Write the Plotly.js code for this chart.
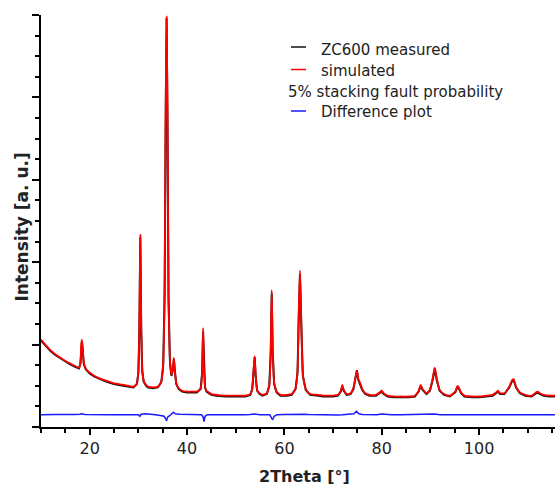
<!DOCTYPE html>
<html>
<head>
<meta charset="utf-8">
<script src="https://cdn.plot.ly/plotly-3.0.1.min.js"></script>
<style>
html,body{margin:0;padding:0;background:#fff;overflow:hidden;}
#chart{width:555px;height:486px;}
</style>
</head>
<body>
<div id="chart"></div>
<script>
// 2Theta positions (degrees)
const twoTheta = [10.0,11,12,13,14,15,16,17,17.8,18.1,18.25,18.4,18.55,18.8,19.2,19.6,20,21,22,23,24,25,26,27,28,29,29.7,30.0,30.2,30.4,30.6,30.8,31.1,31.6,32,33,34,34.7,35.1,35.4,35.6,35.8,36.0,36.2,36.5,36.8,37.1,37.3,37.5,37.8,38.3,39,40,41,42,42.8,43.1,43.3,43.5,43.7,44.0,44.5,45,46,48,50,51,52,53,53.4,53.7,53.9,54.1,54.4,54.9,55.5,56.4,56.9,57.2,57.4,57.6,57.9,58.4,59.2,60.5,61.5,62.3,62.7,62.95,63.2,63.45,63.8,64.4,65.3,67,68,69,70,71,71.6,71.9,72.2,72.8,73.6,74.2,74.6,74.9,75.2,75.6,76.0,76.6,77.5,78.8,79.6,80.0,80.4,81.2,82.5,84,85.5,86.8,87.6,88.0,88.4,89.2,89.9,90.5,90.9,91.3,91.9,92.8,94,95.1,95.6,95.9,96.3,97,98.5,100,101.5,102.8,103.5,103.9,104.3,105.2,106.2,106.8,107.1,107.6,108.4,109.5,110.8,111.5,112.0,112.5,113.3,114.5,115.6];

// Measured pattern (ZC600), arbitrary units
const measured = [1.05,0.98,0.92,0.87,0.83,0.79,0.76,0.73,0.71,0.77,0.95,1.04,0.95,0.76,0.70,0.67,0.65,0.61,0.58,0.56,0.54,0.52,0.51,0.50,0.49,0.48,0.52,0.66,1.15,2.30,1.15,0.68,0.55,0.50,0.48,0.47,0.48,0.54,0.74,1.60,3.60,4.96,3.60,1.55,0.78,0.62,0.70,0.82,0.68,0.52,0.46,0.43,0.42,0.42,0.42,0.46,0.66,1.16,0.66,0.48,0.43,0.41,0.39,0.38,0.37,0.37,0.37,0.37,0.39,0.46,0.70,0.85,0.62,0.44,0.40,0.38,0.40,0.50,0.90,1.62,0.92,0.52,0.42,0.38,0.38,0.39,0.46,0.66,1.32,1.86,1.30,0.62,0.45,0.39,0.38,0.37,0.37,0.37,0.38,0.43,0.49,0.44,0.39,0.40,0.46,0.58,0.69,0.57,0.52,0.45,0.40,0.38,0.38,0.41,0.43,0.40,0.37,0.36,0.36,0.36,0.37,0.43,0.50,0.45,0.40,0.44,0.58,0.71,0.57,0.44,0.39,0.37,0.42,0.49,0.46,0.41,0.37,0.36,0.36,0.37,0.38,0.41,0.43,0.40,0.40,0.48,0.56,0.57,0.48,0.41,0.38,0.37,0.40,0.42,0.40,0.38,0.37,0.37];

// Simulated pattern (5% stacking fault probability)
const simulated = [1.06,0.99,0.93,0.88,0.84,0.80,0.77,0.74,0.72,0.78,0.98,1.06,0.97,0.78,0.71,0.68,0.66,0.62,0.59,0.57,0.55,0.53,0.52,0.51,0.50,0.49,0.53,0.68,1.20,2.33,1.20,0.70,0.56,0.51,0.49,0.48,0.49,0.55,0.76,1.70,3.80,4.98,3.80,1.60,0.80,0.63,0.71,0.84,0.69,0.53,0.47,0.44,0.43,0.43,0.43,0.47,0.68,1.20,0.68,0.49,0.44,0.42,0.40,0.39,0.38,0.38,0.38,0.38,0.40,0.47,0.72,0.86,0.63,0.45,0.41,0.39,0.41,0.52,0.94,1.66,0.96,0.54,0.43,0.39,0.39,0.40,0.47,0.68,1.40,1.90,1.36,0.64,0.46,0.40,0.39,0.38,0.38,0.38,0.39,0.44,0.51,0.45,0.40,0.41,0.48,0.60,0.68,0.58,0.53,0.46,0.41,0.39,0.39,0.42,0.44,0.41,0.38,0.37,0.37,0.37,0.38,0.44,0.51,0.46,0.41,0.45,0.60,0.72,0.59,0.45,0.40,0.38,0.43,0.50,0.47,0.42,0.38,0.37,0.37,0.38,0.39,0.42,0.44,0.41,0.41,0.49,0.57,0.58,0.49,0.42,0.39,0.38,0.41,0.43,0.41,0.39,0.38,0.38];

// Difference plot
const diffX = [10,11,12,13,14,15,16,17,18,18.4,19,20,21,22,23,24,25,26,27,28,29,30.0,30.3,30.6,31.5,32.5,33.5,34.5,35.3,35.6,35.8,36.0,36.5,37.2,37.6,38.5,40,41,42,43.0,43.3,43.5,43.7,44.2,45,46,47,48,49,50,51,52,53,53.8,55,56,57.0,57.4,57.6,57.9,58.5,60,61,62,63,64,65,66,67,68,69,70,71,72,73,74.3,74.8,75.3,76,77,78,79,80,81,82,84,86,87,88,89,90,90.8,92,93,95,96,97,98,99,100,101,102,103,104,105,106,107,108,109,110,111,112,113,114,115.6];
const diffY = [0.150,0.148,0.149,0.151,0.152,0.150,0.149,0.151,0.155,0.160,0.152,0.150,0.151,0.149,0.152,0.150,0.150,0.151,0.151,0.149,0.150,0.150,0.130,0.155,0.162,0.158,0.150,0.140,0.130,0.100,0.075,0.120,0.140,0.180,0.160,0.155,0.152,0.150,0.151,0.150,0.120,0.065,0.130,0.150,0.149,0.148,0.150,0.150,0.151,0.152,0.150,0.150,0.151,0.158,0.150,0.149,0.150,0.105,0.088,0.130,0.150,0.152,0.153,0.155,0.162,0.155,0.152,0.150,0.149,0.148,0.147,0.146,0.147,0.148,0.150,0.160,0.190,0.160,0.152,0.150,0.149,0.150,0.158,0.150,0.149,0.148,0.149,0.150,0.151,0.149,0.150,0.158,0.148,0.147,0.145,0.152,0.150,0.149,0.150,0.150,0.151,0.149,0.148,0.150,0.149,0.150,0.150,0.157,0.150,0.149,0.150,0.151,0.150,0.150,0.149,0.150];

const xTickVals = [20,40,60,80,100];
const xTickText = ['20','40','60','80','100'];
const legendTexts = ['ZC600 measured','simulated','5% stacking fault probability','Difference plot'];

const traces = [
  {x: twoTheta, y: measured, type:'scatter', mode:'lines', line:{color:'#111111', width:2}, hoverinfo:'skip'},
  {x: twoTheta, y: simulated, type:'scatter', mode:'lines', line:{color:'#ff0000', width:1.8, shape:'spline', smoothing:0.6}, hoverinfo:'skip'},
  {x: diffX, y: diffY, type:'scatter', mode:'lines', line:{color:'#1a1aff', width:1.5}, hoverinfo:'skip'}
];

const FONT = 'DejaVu Sans, Verdana, sans-serif';
const W = 555, L = 41, R = 0, T = 15, B = 59;
const pw = W - L - R, ph = 486 - T - B;
const px = v => (v - L) / pw;          // pixel x -> paper
const py = v => (486 - B - v) / ph;    // pixel y -> paper

const layout = {
  width: W, height: 486,
  margin: {l: L, r: R, t: T, b: B, pad: 0},
  paper_bgcolor: '#fff', plot_bgcolor: '#fff',
  showlegend: false,
  font: {family: FONT, color: '#222', size: 16},
  xaxis: {
    range: [10, 115.6], showgrid: false, zeroline: false,
    showline: true, linecolor: '#000', linewidth: 2,
    ticks: 'outside', ticklen: 6, tickwidth: 2, tickcolor: '#000',
    tickvals: xTickVals, ticktext: xTickText,
    tickfont: {family: FONT, size: 16, color: '#222'},
    minor: {tick0: 0, dtick: 5, ticks: 'outside', ticklen: 4, tickwidth: 2, tickcolor: '#000', showgrid: false}
  },
  yaxis: {
    range: [0, 5.0], showgrid: false, zeroline: false,
    showline: true, linecolor: '#000', linewidth: 2,
    ticks: 'outside', ticklen: 7, tickwidth: 2, tickcolor: '#000',
    tick0: 0, dtick: 1, showticklabels: false,
    minor: {tick0: 0, dtick: 0.25, ticks: 'outside', ticklen: 4, tickwidth: 2, tickcolor: '#000', showgrid: false}
  },
  annotations: [
    {xref:'paper', yref:'paper', x: px(304), y: py(476), text:'<b>2Theta [°]</b>', showarrow:false, xanchor:'center', yanchor:'middle', font:{family:FONT, size:16, color:'#222'}},
    {xref:'paper', yref:'paper', x: px(21.5), y: py(227), text:'<b>Intensity [a. u.]</b>', textangle:-90, showarrow:false, xanchor:'center', yanchor:'middle', font:{family:FONT, size:17, color:'#222'}},
    {xref:'paper', yref:'paper', x: px(319), y: py(49.5), text: legendTexts[0], showarrow:false, xanchor:'left', yanchor:'middle', font:{family:FONT, size:15, color:'#222'}},
    {xref:'paper', yref:'paper', x: px(319), y: py(70.5), text: legendTexts[1], showarrow:false, xanchor:'left', yanchor:'middle', font:{family:FONT, size:15, color:'#222'}},
    {xref:'paper', yref:'paper', x: px(286), y: py(92), text: legendTexts[2], showarrow:false, xanchor:'left', yanchor:'middle', font:{family:FONT, size:15, color:'#222'}},
    {xref:'paper', yref:'paper', x: px(319), y: py(112.5), text: legendTexts[3], showarrow:false, xanchor:'left', yanchor:'middle', font:{family:FONT, size:15, color:'#222'}}
  ],
  shapes: [
    {type:'line', xref:'paper', yref:'paper', x0: px(291), x1: px(306), y0: py(47), y1: py(47), line:{color:'#111', width:1.5}},
    {type:'line', xref:'paper', yref:'paper', x0: px(291), x1: px(306), y0: py(69.5), y1: py(69.5), line:{color:'#ff0000', width:1.5}},
    {type:'line', xref:'paper', yref:'paper', x0: px(291), x1: px(306), y0: py(111), y1: py(111), line:{color:'#1a1aff', width:1.5}}
  ]
};

Plotly.newPlot('chart', traces, layout, {staticPlot: true, displayModeBar: false});
</script>
</body>
</html>
